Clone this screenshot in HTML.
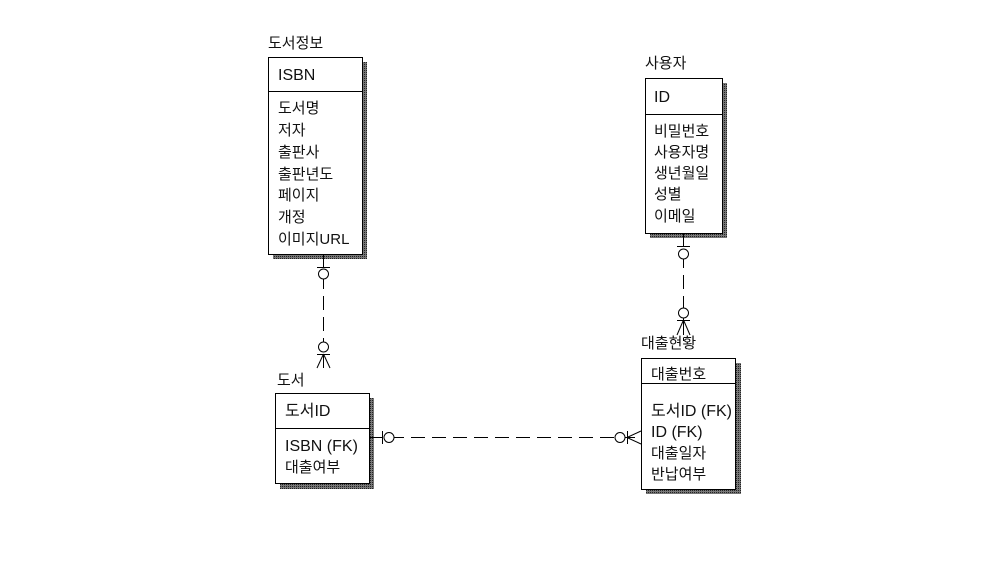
<!DOCTYPE html>
<html><head><meta charset="utf-8"><style>
body{margin:0;background:#fff;}
svg text{font-family:"Liberation Sans","Noto Sans CJK KR",sans-serif;font-size:15px;fill:#111;}
</style></head><body>
<svg width="1002" height="565" xmlns="http://www.w3.org/2000/svg">
<defs><pattern id="sh" width="2" height="2" patternUnits="userSpaceOnUse"><rect width="2" height="2" fill="#777"/><rect width="1" height="1" fill="#222"/></pattern></defs>
<g stroke="#000" stroke-width="1" fill="#fff">
<rect x="273" y="62" width="94" height="197" fill="url(#sh)" stroke="none"/>
<rect x="268.5" y="57.5" width="94" height="197"/>
<line x1="268" y1="91.5" x2="362" y2="91.5"/>
<rect x="650" y="83" width="77" height="155" fill="url(#sh)" stroke="none"/>
<rect x="645.5" y="78.5" width="77" height="155"/>
<line x1="645" y1="114.5" x2="722" y2="114.5"/>
<rect x="280" y="398" width="94" height="91" fill="url(#sh)" stroke="none"/>
<rect x="275.5" y="393.5" width="94" height="90"/>
<line x1="275" y1="428.5" x2="369" y2="428.5"/>
<rect x="646" y="363" width="95" height="131" fill="url(#sh)" stroke="none"/>
<rect x="641.5" y="358.5" width="94" height="131"/>
<line x1="641" y1="383.5" x2="735" y2="383.5"/>
</g>
<g stroke="#000" stroke-width="1" fill="none">
<line x1="323.5" y1="254" x2="323.5" y2="368" stroke-dasharray="14,7"/>
<line x1="317" y1="267.5" x2="330" y2="267.5"/>
<circle cx="323.5" cy="274" r="5" fill="#fff"/>
<circle cx="323.5" cy="347" r="5" fill="#fff"/>
<line x1="317" y1="354.5" x2="330" y2="354.5"/>
<line x1="323.5" y1="354" x2="317" y2="368"/><line x1="323.5" y1="354" x2="330" y2="368"/><line x1="323.5" y1="354" x2="323.5" y2="368"/>
<line x1="683.5" y1="233" x2="683.5" y2="341" stroke-dasharray="14,7"/>
<line x1="677" y1="246.5" x2="690" y2="246.5"/>
<circle cx="683.5" cy="254" r="5" fill="#fff"/>
<circle cx="683.5" cy="313" r="5" fill="#fff"/>
<line x1="677" y1="320.5" x2="690" y2="320.5"/>
<line x1="683.5" y1="320" x2="677" y2="335"/><line x1="683.5" y1="320" x2="690" y2="335"/><line x1="683.5" y1="320" x2="683.5" y2="335"/>
<line x1="369" y1="437.5" x2="641" y2="437.5" stroke-dasharray="14,7"/>
<line x1="382.5" y1="431" x2="382.5" y2="444"/>
<circle cx="389" cy="437.5" r="5" fill="#fff"/>
<circle cx="620" cy="437.5" r="5" fill="#fff"/>
<line x1="627.5" y1="431" x2="627.5" y2="444"/>
<line x1="627" y1="437.5" x2="641" y2="431"/><line x1="627" y1="437.5" x2="641" y2="444"/>
</g>
<text x="268" y="48">도서정보</text>
<text x="278" y="80" style="font-size:16px">ISBN</text>
<text x="278" y="113">도서명</text>
<text x="278" y="135">저자</text>
<text x="278" y="157">출판사</text>
<text x="278" y="179">출판년도</text>
<text x="278" y="200">페이지</text>
<text x="278" y="222">개정</text>
<text x="278" y="244">이미지URL</text>
<text x="645" y="68">사용자</text>
<text x="654" y="102" style="font-size:16px">ID</text>
<text x="654" y="136">비밀번호</text>
<text x="654" y="157">사용자명</text>
<text x="654" y="178">생년월일</text>
<text x="654" y="199">성별</text>
<text x="654" y="221">이메일</text>
<text x="277" y="385">도서</text>
<text x="285" y="416" style="font-size:16px">도서ID</text>
<text x="285" y="451" style="font-size:16px">ISBN (FK)</text>
<text x="285" y="472">대출여부</text>
<text x="641" y="348">대출현황</text>
<text x="651" y="379">대출번호</text>
<text x="651" y="416" style="font-size:16px">도서ID (FK)</text>
<text x="651" y="437" style="font-size:16px">ID (FK)</text>
<text x="651" y="458">대출일자</text>
<text x="651" y="479">반납여부</text>
</svg>
</body></html>
